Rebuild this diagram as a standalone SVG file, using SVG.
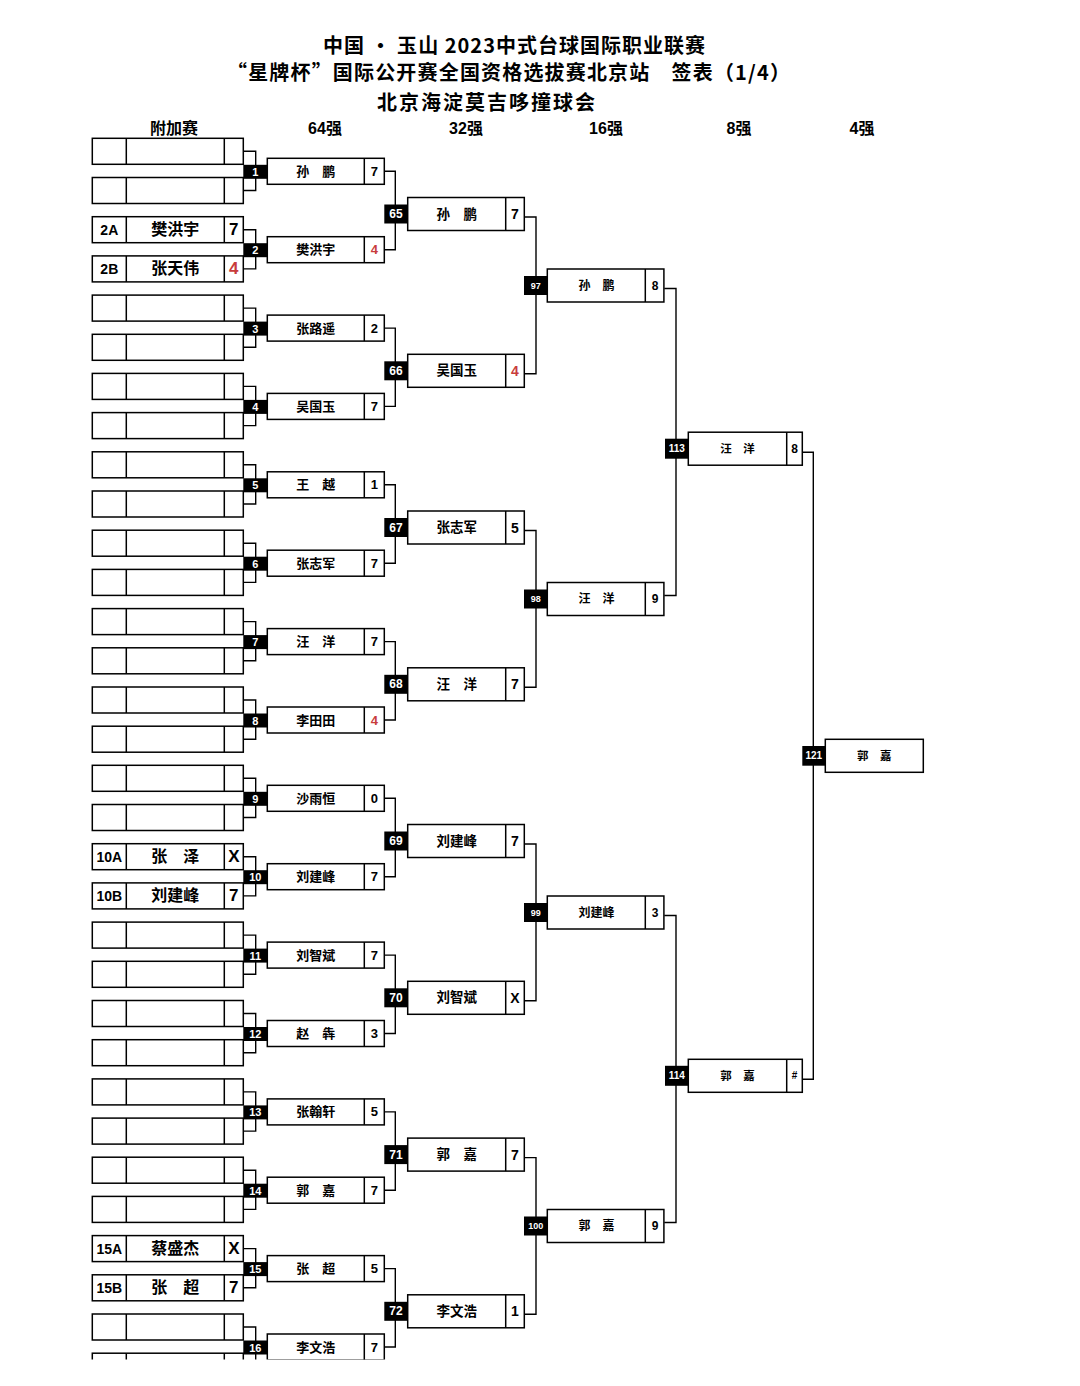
<svg xmlns="http://www.w3.org/2000/svg" xmlns:xlink="http://www.w3.org/1999/xlink" width="1080" height="1386" viewBox="0 0 1080 1386">
<style>
.bx{fill:#fff;stroke:#000;stroke-width:1.5}
.dv{fill:none;stroke:#000;stroke-width:1.5}
.bk{fill:#000}
.cn{fill:none;stroke:#000;stroke-width:1.4}
.t{font-family:"Liberation Sans","Noto Sans CJK SC",sans-serif;font-weight:bold;text-anchor:middle;dominant-baseline:central;fill:#000}
.ti{font-family:"Noto Sans CJK SC","Liberation Serif",serif;font-weight:bold;font-size:20px;fill:#000}
.h{font-size:16px}
.w{fill:#fff}
.r{fill:#c83c3c}
.l1{font-size:14px}
.l2{font-size:16px}
.l3{font-size:17px}
.n64{font-size:13px}
.n32{font-size:13.5px}
.n16{font-size:12px}
.n8{font-size:11.5px}
.s32{font-size:14px}
.k64{font-size:11px}
.k32{font-size:12px}
.k16{font-size:9px}
.k8{font-size:10px}
</style>
<defs>
<clipPath id="cut"><rect x="0" y="0" width="1080" height="1359.5"/></clipPath>
<g id="lbox"><rect class="bx" x="0" y="0" width="151" height="26"/><path class="dv" d="M34,0V26M132,0V26"/></g>
<g id="b64"><rect class="bx" x="0" y="0" width="117" height="26"/><path class="dv" d="M97,0V26"/></g>
<g id="b32"><rect class="bx" x="0" y="0" width="116.6" height="33"/><path class="dv" d="M98,0V33"/></g>
<g id="b8"><rect class="bx" x="0" y="0" width="114" height="33"/><path class="dv" d="M98.4,0V33"/></g>
</defs>
<rect x="0" y="0" width="1080" height="1386" fill="#fff"/>
<g id="title">
<text class="ti" x="323" y="53" textLength="382" lengthAdjust="spacing">中国 • 玉山 2023中式台球国际职业联赛</text>
<text class="ti" x="227" y="79.5" textLength="563" lengthAdjust="spacing">“星牌杯”国际公开赛全国资格选拔赛北京站　签表（1/4）</text>
<text class="ti" x="377" y="110" textLength="218" lengthAdjust="spacing">北京海淀莫吉哆撞球会</text>
</g>
<g id="headers">
<text class="t h" x="174" y="128">附加赛</text>
<text class="t h" x="325" y="128">64强</text>
<text class="t h" x="466" y="128">32强</text>
<text class="t h" x="606" y="128">16强</text>
<text class="t h" x="739" y="128">8强</text>
<text class="t h" x="862" y="128">4强</text>
</g>
<g clip-path="url(#cut)">
<g id="connectors">
<path class="cn" d="M243.3,151.3H255.7V190.5H243.3M243.3,229.7H255.7V268.9H243.3M243.3,308.1H255.7V347.3H243.3M243.3,386.4H255.7V425.6H243.3M243.3,464.8H255.7V504H243.3M243.3,543.2H255.7V582.4H243.3M243.3,621.6H255.7V660.8H243.3M243.3,700H255.7V739.2H243.3M243.3,778.3H255.7V817.5H243.3M243.3,856.7H255.7V895.9H243.3M243.3,935.1H255.7V974.3H243.3M243.3,1013.5H255.7V1052.7H243.3M243.3,1091.9H255.7V1131.1H243.3M243.3,1170.2H255.7V1209.4H243.3M243.3,1248.6H255.7V1287.8H243.3M243.3,1327H255.7V1366.2H243.3"/>
<path class="cn" d="M384.3,171.3H395.3V249.7H384.3M384.3,328.1H395.3V406.4H384.3M384.3,484.8H395.3V563.2H384.3M384.3,641.6H395.3V720H384.3M384.3,798.3H395.3V876.7H384.3M384.3,955.1H395.3V1033.5H384.3M384.3,1111.9H395.3V1190.2H384.3M384.3,1268.6H395.3V1347H384.3"/>
<path class="cn" d="M524.3,217H536V373.8H524.3M524.3,530.5H536V687.3H524.3M524.3,844H536V1000.8H524.3M524.3,1157.6H536V1314.3H524.3"/>
<path class="cn" d="M664.3,288.5H676V595.5H664.3M664.3,915.5H676V1222.5H664.3"/>
<path class="cn" d="M802.3,452.2H813.3V1079.3H802.3"/>
</g>
<g id="qualifiers">
<use id="s0" xlink:href="#lbox" x="92.3" y="138.3"/>
<use id="s1" xlink:href="#lbox" x="92.3" y="177.5"/>
<g id="s2A"><use xlink:href="#lbox" x="92.3" y="216.7"/><text class="t l1" x="109.3" y="229.7">2A</text><text class="t l2" x="175.3" y="229.7">樊洪宇</text><text class="t l3" x="233.8" y="229.7">7</text></g>
<g id="s2B"><use xlink:href="#lbox" x="92.3" y="255.9"/><text class="t l1" x="109.3" y="268.9">2B</text><text class="t l2" x="175.3" y="268.9">张天伟</text><text class="t l3 r" x="233.8" y="268.9">4</text></g>
<use id="s4" xlink:href="#lbox" x="92.3" y="295.1"/>
<use id="s5" xlink:href="#lbox" x="92.3" y="334.3"/>
<use id="s6" xlink:href="#lbox" x="92.3" y="373.4"/>
<use id="s7" xlink:href="#lbox" x="92.3" y="412.6"/>
<use id="s8" xlink:href="#lbox" x="92.3" y="451.8"/>
<use id="s9" xlink:href="#lbox" x="92.3" y="491"/>
<use id="s10" xlink:href="#lbox" x="92.3" y="530.2"/>
<use id="s11" xlink:href="#lbox" x="92.3" y="569.4"/>
<use id="s12" xlink:href="#lbox" x="92.3" y="608.6"/>
<use id="s13" xlink:href="#lbox" x="92.3" y="647.8"/>
<use id="s14" xlink:href="#lbox" x="92.3" y="687"/>
<use id="s15" xlink:href="#lbox" x="92.3" y="726.2"/>
<use id="s16" xlink:href="#lbox" x="92.3" y="765.3"/>
<use id="s17" xlink:href="#lbox" x="92.3" y="804.5"/>
<g id="s10A"><use xlink:href="#lbox" x="92.3" y="843.7"/><text class="t l1" x="109.3" y="856.7">10A</text><text class="t l2" x="175.3" y="856.7">张　泽</text><text class="t l3" x="233.8" y="856.7">X</text></g>
<g id="s10B"><use xlink:href="#lbox" x="92.3" y="882.9"/><text class="t l1" x="109.3" y="895.9">10B</text><text class="t l2" x="175.3" y="895.9">刘建峰</text><text class="t l3" x="233.8" y="895.9">7</text></g>
<use id="s20" xlink:href="#lbox" x="92.3" y="922.1"/>
<use id="s21" xlink:href="#lbox" x="92.3" y="961.3"/>
<use id="s22" xlink:href="#lbox" x="92.3" y="1000.5"/>
<use id="s23" xlink:href="#lbox" x="92.3" y="1039.7"/>
<use id="s24" xlink:href="#lbox" x="92.3" y="1078.9"/>
<use id="s25" xlink:href="#lbox" x="92.3" y="1118.1"/>
<use id="s26" xlink:href="#lbox" x="92.3" y="1157.2"/>
<use id="s27" xlink:href="#lbox" x="92.3" y="1196.4"/>
<g id="s15A"><use xlink:href="#lbox" x="92.3" y="1235.6"/><text class="t l1" x="109.3" y="1248.6">15A</text><text class="t l2" x="175.3" y="1248.6">蔡盛杰</text><text class="t l3" x="233.8" y="1248.6">X</text></g>
<g id="s15B"><use xlink:href="#lbox" x="92.3" y="1274.8"/><text class="t l1" x="109.3" y="1287.8">15B</text><text class="t l2" x="175.3" y="1287.8">张　超</text><text class="t l3" x="233.8" y="1287.8">7</text></g>
<use id="s30" xlink:href="#lbox" x="92.3" y="1314"/>
<use id="s31" xlink:href="#lbox" x="92.3" y="1353.2"/>
</g>
<g id="r64">
<g id="m1"><use xlink:href="#b64" x="267.3" y="158.3"/><rect class="bk" x="243.3" y="164.8" width="24" height="14"/><text class="t k64 w" x="255.3" y="171.8">1</text><text class="t n64" x="315.8" y="171.3">孙　鹏</text><text class="t n64" x="374.3" y="171.3">7</text></g>
<g id="m2"><use xlink:href="#b64" x="267.3" y="236.7"/><rect class="bk" x="243.3" y="243.2" width="24" height="14"/><text class="t k64 w" x="255.3" y="250.2">2</text><text class="t n64" x="315.8" y="249.7">樊洪宇</text><text class="t n64 r" x="374.3" y="249.7">4</text></g>
<g id="m3"><use xlink:href="#b64" x="267.3" y="315.1"/><rect class="bk" x="243.3" y="321.6" width="24" height="14"/><text class="t k64 w" x="255.3" y="328.6">3</text><text class="t n64" x="315.8" y="328.1">张路遥</text><text class="t n64" x="374.3" y="328.1">2</text></g>
<g id="m4"><use xlink:href="#b64" x="267.3" y="393.4"/><rect class="bk" x="243.3" y="399.9" width="24" height="14"/><text class="t k64 w" x="255.3" y="406.9">4</text><text class="t n64" x="315.8" y="406.4">吴国玉</text><text class="t n64" x="374.3" y="406.4">7</text></g>
<g id="m5"><use xlink:href="#b64" x="267.3" y="471.8"/><rect class="bk" x="243.3" y="478.3" width="24" height="14"/><text class="t k64 w" x="255.3" y="485.3">5</text><text class="t n64" x="315.8" y="484.8">王　越</text><text class="t n64" x="374.3" y="484.8">1</text></g>
<g id="m6"><use xlink:href="#b64" x="267.3" y="550.2"/><rect class="bk" x="243.3" y="556.7" width="24" height="14"/><text class="t k64 w" x="255.3" y="563.7">6</text><text class="t n64" x="315.8" y="563.2">张志军</text><text class="t n64" x="374.3" y="563.2">7</text></g>
<g id="m7"><use xlink:href="#b64" x="267.3" y="628.6"/><rect class="bk" x="243.3" y="635.1" width="24" height="14"/><text class="t k64 w" x="255.3" y="642.1">7</text><text class="t n64" x="315.8" y="641.6">汪　洋</text><text class="t n64" x="374.3" y="641.6">7</text></g>
<g id="m8"><use xlink:href="#b64" x="267.3" y="707"/><rect class="bk" x="243.3" y="713.5" width="24" height="14"/><text class="t k64 w" x="255.3" y="720.5">8</text><text class="t n64" x="315.8" y="720">李田田</text><text class="t n64 r" x="374.3" y="720">4</text></g>
<g id="m9"><use xlink:href="#b64" x="267.3" y="785.3"/><rect class="bk" x="243.3" y="791.8" width="24" height="14"/><text class="t k64 w" x="255.3" y="798.8">9</text><text class="t n64" x="315.8" y="798.3">沙雨恒</text><text class="t n64" x="374.3" y="798.3">0</text></g>
<g id="m10"><use xlink:href="#b64" x="267.3" y="863.7"/><rect class="bk" x="243.3" y="870.2" width="24" height="14"/><text class="t k64 w" x="255.3" y="877.2">10</text><text class="t n64" x="315.8" y="876.7">刘建峰</text><text class="t n64" x="374.3" y="876.7">7</text></g>
<g id="m11"><use xlink:href="#b64" x="267.3" y="942.1"/><rect class="bk" x="243.3" y="948.6" width="24" height="14"/><text class="t k64 w" x="255.3" y="955.6">11</text><text class="t n64" x="315.8" y="955.1">刘智斌</text><text class="t n64" x="374.3" y="955.1">7</text></g>
<g id="m12"><use xlink:href="#b64" x="267.3" y="1020.5"/><rect class="bk" x="243.3" y="1027" width="24" height="14"/><text class="t k64 w" x="255.3" y="1034">12</text><text class="t n64" x="315.8" y="1033.5">赵　犇</text><text class="t n64" x="374.3" y="1033.5">3</text></g>
<g id="m13"><use xlink:href="#b64" x="267.3" y="1098.9"/><rect class="bk" x="243.3" y="1105.4" width="24" height="14"/><text class="t k64 w" x="255.3" y="1112.4">13</text><text class="t n64" x="315.8" y="1111.9">张翰轩</text><text class="t n64" x="374.3" y="1111.9">5</text></g>
<g id="m14"><use xlink:href="#b64" x="267.3" y="1177.2"/><rect class="bk" x="243.3" y="1183.7" width="24" height="14"/><text class="t k64 w" x="255.3" y="1190.7">14</text><text class="t n64" x="315.8" y="1190.2">郭　嘉</text><text class="t n64" x="374.3" y="1190.2">7</text></g>
<g id="m15"><use xlink:href="#b64" x="267.3" y="1255.6"/><rect class="bk" x="243.3" y="1262.1" width="24" height="14"/><text class="t k64 w" x="255.3" y="1269.1">15</text><text class="t n64" x="315.8" y="1268.6">张　超</text><text class="t n64" x="374.3" y="1268.6">5</text></g>
<g id="m16"><use xlink:href="#b64" x="267.3" y="1334"/><rect class="bk" x="243.3" y="1340.5" width="24" height="14"/><text class="t k64 w" x="255.3" y="1347.5">16</text><text class="t n64" x="315.8" y="1347">李文浩</text><text class="t n64" x="374.3" y="1347">7</text></g>
</g>
<g id="r32">
<g id="m65"><use xlink:href="#b32" x="407.7" y="197.5"/><rect class="bk" x="384.3" y="204.5" width="23.4" height="19"/><text class="t k32 w" x="396" y="214">65</text><text class="t n32" x="456.7" y="214">孙　鹏</text><text class="t s32" x="515" y="214">7</text></g>
<g id="m66"><use xlink:href="#b32" x="407.7" y="354.3"/><rect class="bk" x="384.3" y="361.3" width="23.4" height="19"/><text class="t k32 w" x="396" y="370.8">66</text><text class="t n32" x="456.7" y="370.8">吴国玉</text><text class="t s32 r" x="515" y="370.8">4</text></g>
<g id="m67"><use xlink:href="#b32" x="407.7" y="511"/><rect class="bk" x="384.3" y="518" width="23.4" height="19"/><text class="t k32 w" x="396" y="527.5">67</text><text class="t n32" x="456.7" y="527.5">张志军</text><text class="t s32" x="515" y="527.5">5</text></g>
<g id="m68"><use xlink:href="#b32" x="407.7" y="667.8"/><rect class="bk" x="384.3" y="674.8" width="23.4" height="19"/><text class="t k32 w" x="396" y="684.3">68</text><text class="t n32" x="456.7" y="684.3">汪　洋</text><text class="t s32" x="515" y="684.3">7</text></g>
<g id="m69"><use xlink:href="#b32" x="407.7" y="824.5"/><rect class="bk" x="384.3" y="831.5" width="23.4" height="19"/><text class="t k32 w" x="396" y="841">69</text><text class="t n32" x="456.7" y="841">刘建峰</text><text class="t s32" x="515" y="841">7</text></g>
<g id="m70"><use xlink:href="#b32" x="407.7" y="981.3"/><rect class="bk" x="384.3" y="988.3" width="23.4" height="19"/><text class="t k32 w" x="396" y="997.8">70</text><text class="t n32" x="456.7" y="997.8">刘智斌</text><text class="t s32" x="515" y="997.8">X</text></g>
<g id="m71"><use xlink:href="#b32" x="407.7" y="1138.1"/><rect class="bk" x="384.3" y="1145.1" width="23.4" height="19"/><text class="t k32 w" x="396" y="1154.6">71</text><text class="t n32" x="456.7" y="1154.6">郭　嘉</text><text class="t s32" x="515" y="1154.6">7</text></g>
<g id="m72"><use xlink:href="#b32" x="407.7" y="1294.8"/><rect class="bk" x="384.3" y="1301.8" width="23.4" height="19"/><text class="t k32 w" x="396" y="1311.3">72</text><text class="t n32" x="456.7" y="1311.3">李文浩</text><text class="t s32" x="515" y="1311.3">1</text></g>
</g>
<g id="r16">
<g id="m97"><use xlink:href="#b32" x="547.3" y="269"/><rect class="bk" x="524" y="276" width="23.3" height="19"/><text class="t k16 w" x="535.7" y="285.5">97</text><text class="t n16" x="596.5" y="285.5">孙　鹏</text><text class="t n16" x="655" y="285.5">8</text></g>
<g id="m98"><use xlink:href="#b32" x="547.3" y="582.5"/><rect class="bk" x="524" y="589.5" width="23.3" height="19"/><text class="t k16 w" x="535.7" y="599">98</text><text class="t n16" x="596.5" y="599">汪　洋</text><text class="t n16" x="655" y="599">9</text></g>
<g id="m99"><use xlink:href="#b32" x="547.3" y="896"/><rect class="bk" x="524" y="903" width="23.3" height="19"/><text class="t k16 w" x="535.7" y="912.5">99</text><text class="t n16" x="596.5" y="912.5">刘建峰</text><text class="t n16" x="655" y="912.5">3</text></g>
<g id="m100"><use xlink:href="#b32" x="547.3" y="1209.5"/><rect class="bk" x="524" y="1216.5" width="23.3" height="19"/><text class="t k16 w" x="535.7" y="1226">100</text><text class="t n16" x="596.5" y="1226">郭　嘉</text><text class="t n16" x="655" y="1226">9</text></g>
</g>
<g id="r8">
<g id="m113"><use xlink:href="#b8" x="688.3" y="432.2"/><rect class="bk" x="665" y="438.7" width="23.3" height="20"/><text class="t k8 w" x="676.7" y="448.7">113</text><text class="t n8" x="737.5" y="448.7">汪　洋</text><text class="t n16" x="794.5" y="448.7">8</text></g>
<g id="m114"><use xlink:href="#b8" x="688.3" y="1059.3"/><rect class="bk" x="665" y="1065.8" width="23.3" height="20"/><text class="t k8 w" x="676.7" y="1075.8">114</text><text class="t n8" x="737.5" y="1075.8">郭　嘉</text><text class="t k8" x="794.5" y="1075.8">#</text></g>
</g>
<g id="m121"><rect class="bx" x="825.3" y="739.3" width="98" height="33"/><rect class="bk" x="802.3" y="746" width="23" height="19.7"/><text class="t k8 w" x="813.8" y="755.8">121</text><text class="t n8" x="874.3" y="755.8">郭　嘉</text></g>
</g>
</svg>
